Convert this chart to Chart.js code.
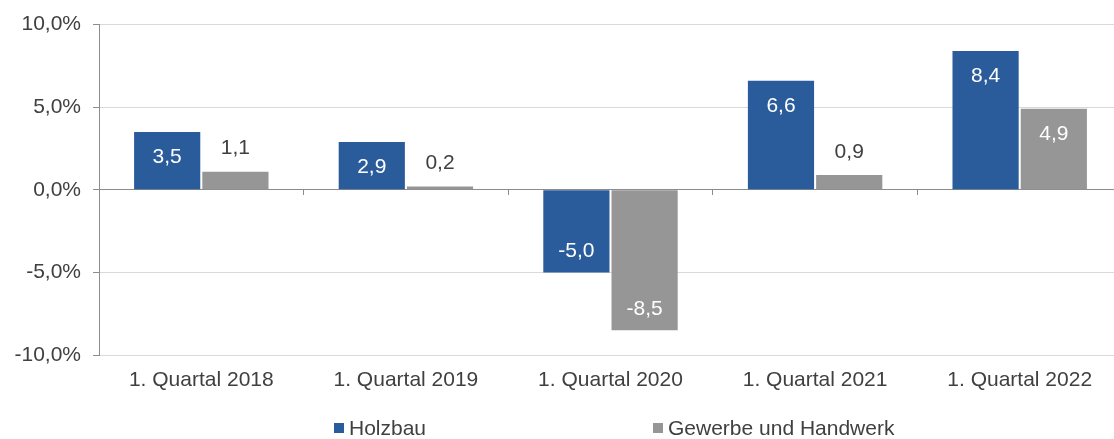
<!DOCTYPE html>
<html>
<head>
<meta charset="utf-8">
<script src="https://cdn.jsdelivr.net/npm/chart.js@4/dist/chart.umd.min.js"></script>
<style>
  body { margin: 0; overflow: hidden; background: #fff; }
  #wrap { position: relative; width: 1130px; height: 439px; }
  #legend { position: absolute; left: 334px; top: 416px; display: flex;
    font-family: 'Liberation Sans', Arial, sans-serif; font-size: 21px; color: #404040; }
  .item { display: flex; align-items: center; }
  .item:first-child { width: 319px; }
  .box { width: 10px; height: 10px; margin-right: 5px; }
</style>
</head>
<body>
<div id="wrap">
  <canvas id="myChart" width="1130" height="439"></canvas>
  <div id="legend"></div>
</div>
<script>
const quarters = ["1. Quartal 2018", "1. Quartal 2019", "1. Quartal 2020", "1. Quartal 2021", "1. Quartal 2022"];
const holzbau = [3.5, 2.9, -5.0, 6.6, 8.4];
const gewerbe = [1.1, 0.2, -8.5, 0.9, 4.9];
const seriesNames = ["Holzbau", "Gewerbe und Handwerk"];
const seriesColors = ["#2a5b9b", "#969696"];

const axisColor = "#8c8c8c";
const fmt = v => v.toFixed(1).replace(".", ",");

Chart.defaults.font.family = "'Liberation Sans', Arial, sans-serif";
Chart.defaults.font.size = 21;
Chart.defaults.color = "#404040";

// value labels on the bars, inside the end if the bar is tall enough
const barLabels = {
  id: "barLabels",
  afterDatasetsDraw(chart) {
    const ctx = chart.ctx;
    ctx.save();
    ctx.font = "21px 'Liberation Sans', Arial, sans-serif";
    ctx.textAlign = "center";
    ctx.textBaseline = "middle";
    chart.data.datasets.forEach((ds, i) => {
      chart.getDatasetMeta(i).data.forEach((el, j) => {
        const v = ds.data[j];
        const { x, y, base } = el.getProps(["x", "y", "base"], true);
        const h = Math.abs(base - y);
        let ty;
        if (h > 40) {
          ctx.fillStyle = "#ffffff";
          ty = v >= 0 ? y + 25 : y - 21;
        } else {
          ctx.fillStyle = "#404040";
          ty = y - 23;
        }
        ctx.fillText(fmt(v), x, ty);
      });
    });
    ctx.restore();
  },
};

const ctx = document.getElementById("myChart").getContext("2d");
const chart = new Chart(ctx, {
  type: "bar",
  data: {
    labels: quarters,
    datasets: [
      { label: seriesNames[0], data: holzbau, backgroundColor: seriesColors[0] },
      { label: seriesNames[1], data: gewerbe, backgroundColor: seriesColors[1] },
    ],
  },
  options: {
    responsive: false,
    animation: false,
    barPercentage: 0.97,
    categoryPercentage: 0.667,
    layout: { padding: { top: 22, right: 8, left: 0, bottom: 0 } },
    plugins: { legend: { display: false }, tooltip: { enabled: false } },
    scales: {
      y: {
        min: -10,
        max: 10,
        ticks: { stepSize: 5, padding: 12, callback: v => fmt(v) + "%" },
        grid: {
          color: c => (c.tick && c.tick.value === 0 ? axisColor : "#d9d9d9"),
          tickColor: axisColor,
          tickLength: 6,
        },
        border: { color: axisColor },
        afterFit: s => { s.width = 99; },
      },
      x: {
        grid: { display: false, drawTicks: false },
        border: { display: false },
        ticks: { padding: 13 },
        afterFit: s => { s.height = 84; },
      },
      x2: {
        type: "category",
        position: { y: 0 },
        offset: true,
        grid: { offset: true, drawOnChartArea: false, drawTicks: true, tickLength: 5, color: axisColor },
        border: { color: axisColor },
        ticks: { display: false },
      },
    },
  },
  plugins: [barLabels],
});

// legend below the chart
const legend = document.getElementById("legend");
seriesNames.forEach((name, i) => {
  const item = document.createElement("div");
  item.className = "item";
  item.innerHTML = '<span class="box" style="background:' + seriesColors[i] + '"></span><span>' + name + "</span>";
  legend.appendChild(item);
});
</script>
</body>
</html>
